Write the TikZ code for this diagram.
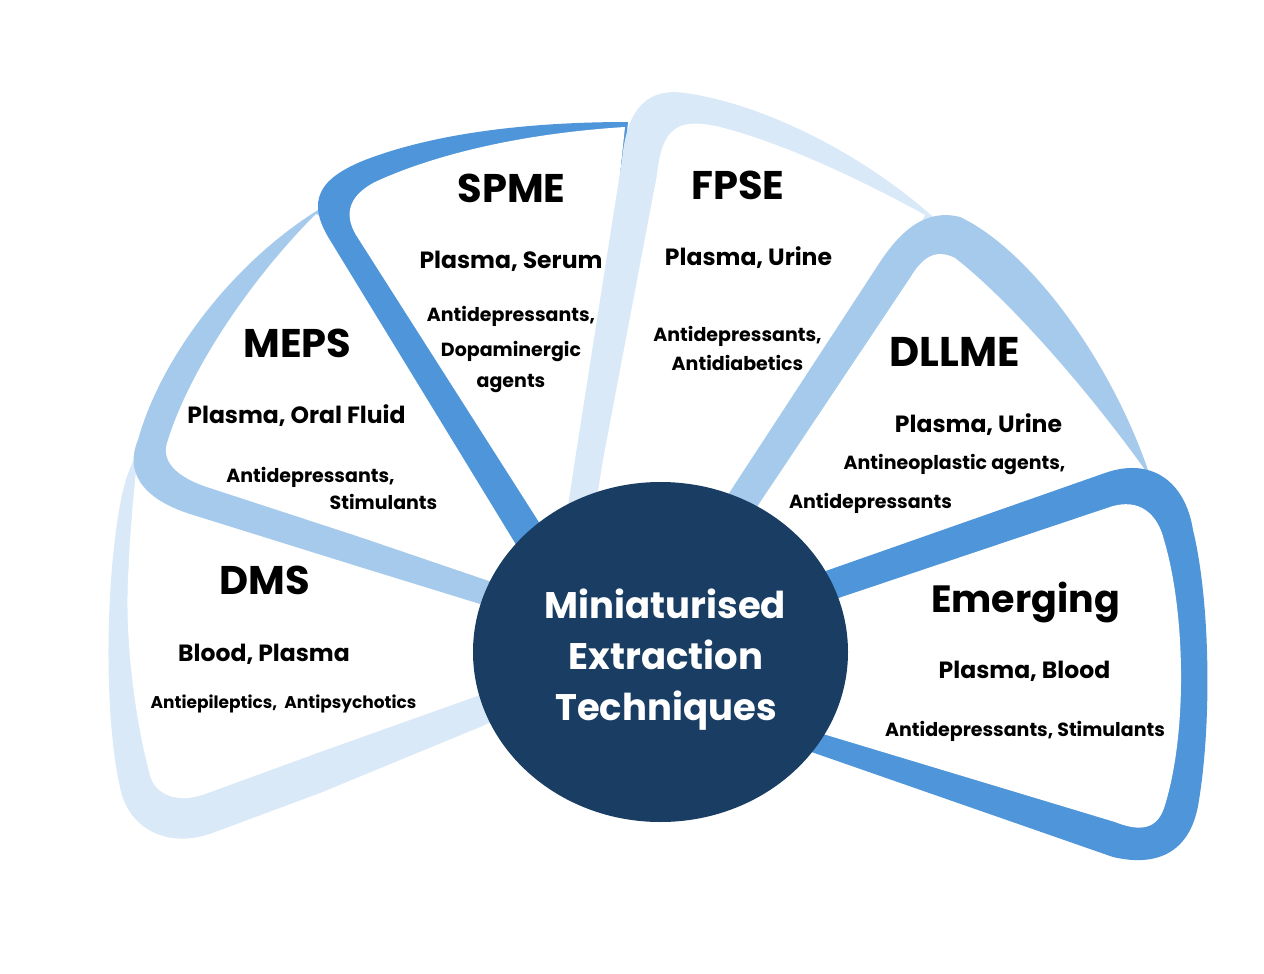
\documentclass[tikz,border=0pt]{standalone}
\usepackage{fontspec}
\setmainfont{Poppins}
\usetikzlibrary{shapes.geometric}
\definecolor{cvl}{HTML}{DAE9F7}
\definecolor{clm}{HTML}{A6CAEC}
\definecolor{cmd}{HTML}{4E95D9}
\definecolor{cdk}{HTML}{1A3D63}
\begin{document}
\begin{tikzpicture}[x=1pt,y=-1pt,
  lbl/.style={anchor=base, inner sep=0pt, text=black},
  hd/.style={lbl, font=\fontsize{40}{48}\selectfont\bfseries},
  sub/.style={lbl, font=\fontsize{23.5}{28}\selectfont\bfseries},
  sm/.style={lbl, font=\fontsize{19}{23}\selectfont\bfseries},
  tn/.style={lbl, font=\fontsize{17}{20}\selectfont\bfseries},
  ctr/.style={anchor=base, inner sep=0pt, text=white, font=\fontsize{37}{44}\selectfont\bfseries}]
\useasboundingbox (0,0) rectangle (1264,974);
\fill[white] (0,0) rectangle (1264,974);

% DMS
\fill[cvl] (560,690) -- (480,727) -- (320,793) -- (215,832)
  .. controls (170,850) and (128,830) .. (120,787)
  .. controls (105,720) and (105,600) .. (118,517)
  .. controls (122,490) and (128,470) .. (135,458)
  -- (170,470) -- (400,560) -- (560,610) -- cycle;
\fill[white] (560,660) -- (480,695) -- (320,752) -- (205,794)
  .. controls (178,804) and (155,795) .. (150,775)
  .. controls (135,720) and (125,640) .. (128,580)
  .. controls (130,530) and (134,490) .. (137,462)
  -- (175,470) -- (400,556) -- (560,600) -- cycle;

% MEPS
\fill[clm] (545,624) -- (360,567) -- (190,514)
  .. controls (140,498) and (125,470) .. (138,440)
  .. controls (160,360) and (230,265) .. (318,210)
  -- (345,225) -- (560,560) -- cycle;
\fill[white] (545,600) -- (360,537) -- (210,488)
  .. controls (175,477) and (160,460) .. (168,440)
  .. controls (190,370) and (250,280) .. (316,214)
  -- (345,228) -- (560,570) -- cycle;

% SPME
\fill[cmd] (600,560) -- (545,592) -- (330,240)
  .. controls (305,200) and (320,178) .. (365,160)
  .. controls (430,135) and (520,122) .. (628,122)
  -- (615,250) -- (590,480) -- cycle;
\fill[white] (600,570) -- (560,555) -- (356,235)
  .. controls (343,213) and (350,195) .. (375,182)
  .. controls (440,152) and (530,133) .. (625,127)
  -- (612,250) -- (588,480) -- cycle;

% FPSE
\fill[cvl] (620,560) -- (566,520) -- (575,460) -- (622,160)
  .. controls (627,105) and (650,88) .. (685,93)
  .. controls (770,105) and (870,160) .. (933,217)
  -- (905,260) -- (760,490) -- (700,560) -- cycle;
\fill[white] (640,560) -- (595,510) -- (603,460) -- (657,175)
  .. controls (662,125) and (680,118) .. (720,127)
  .. controls (790,145) and (870,185) .. (925,215)
  -- (900,262) -- (755,492) -- (690,560) -- cycle;

% DLLME
\fill[clm] (720,560) -- (705,530) -- (880,262)
  .. controls (900,232) and (925,208) .. (960,217)
  .. controls (1030,250) and (1110,360) .. (1148,470)
  -- (1140,495) -- (860,575) -- (800,600) -- cycle;
\fill[white] (740,580) -- (735,540) -- (910,278)
  .. controls (922,258) and (935,248) .. (955,258)
  .. controls (1015,305) and (1095,400) .. (1145,470)
  -- (1138,497) -- (858,578) -- (800,605) -- cycle;

% Emerging
\fill[cmd] (790,660) -- (800,580) -- (1105,473)
  .. controls (1150,457) and (1185,480) .. (1193,530)
  .. controls (1210,600) and (1212,720) .. (1199,800)
  .. controls (1192,850) and (1160,868) .. (1113,857)
  -- (800,748) -- cycle;
\fill[white] (790,660) -- (800,611) -- (1110,507)
  .. controls (1140,497) and (1158,515) .. (1164,540)
  .. controls (1185,610) and (1188,730) .. (1165,805)
  .. controls (1158,830) and (1140,832) .. (1115,822)
  -- (800,727) -- cycle;

% hub
\node[ellipse, fill=cdk, draw=none, minimum width=375pt, minimum height=340pt, inner sep=0pt] (hub) at (660.5,652) {};
\node[ctr] (c1) at (665.5,618) {Miniaturised};
\node[ctr] (c2) at (666,669) {Extraction};
\node[ctr] (c3) at (666,720) {Techniques};

% labels
\node[hd] (spme) at (511.5,202) {SPME};
\node[hd] (fpse) at (738,199) {FPSE};
\node[hd] (meps) at (297.5,357) {MEPS};
\node[hd, font=\fontsize{41.5}{48}\selectfont\bfseries] (dllme) at (954.5,366) {DLLME};
\node[hd] (dms) at (264.5,594) {DMS};
\node[hd, font=\fontsize{38}{46}\selectfont\bfseries] (emer) at (1025.5,612) {Emerging};

\node[sub] (spme1) at (511,268) {Plasma, Serum};
\node[sub] (fpse1) at (748.5,265) {Plasma, Urine};
\node[sub] (meps1) at (296.5,423) {Plasma, Oral Fluid};
\node[sub] (dllme1) at (978.5,432) {Plasma, Urine};
\node[sub] (dms1) at (264,661) {Blood, Plasma};
\node[sub] (emer1) at (1024.5,678) {Plasma, Blood};

\node[sm] (spme2) at (511,321) {Antidepressants,};
\node[sm] (spme3) at (511,356) {Dopaminergic};
\node[sm] (spme4) at (511,387) {agents};
\node[sm] (fpse2) at (737.5,341) {Antidepressants,};
\node[sm] (fpse3) at (737.5,370) {Antidiabetics};
\node[sm] (meps2) at (310.5,482) {Antidepressants,};
\node[sm] (meps3) at (383.5,509) {Stimulants};
\node[sm] (dllme2) at (954.5,469) {Antineoplastic agents,};
\node[sm] (dllme3) at (870.5,508) {Antidepressants};
\node[tn] (dms2) at (283.5,708) {Antiepileptics,\ \ Antipsychotics};
\node[sm] (emer2) at (1025,736) {Antidepressants, Stimulants};
\end{tikzpicture}
\end{document}
